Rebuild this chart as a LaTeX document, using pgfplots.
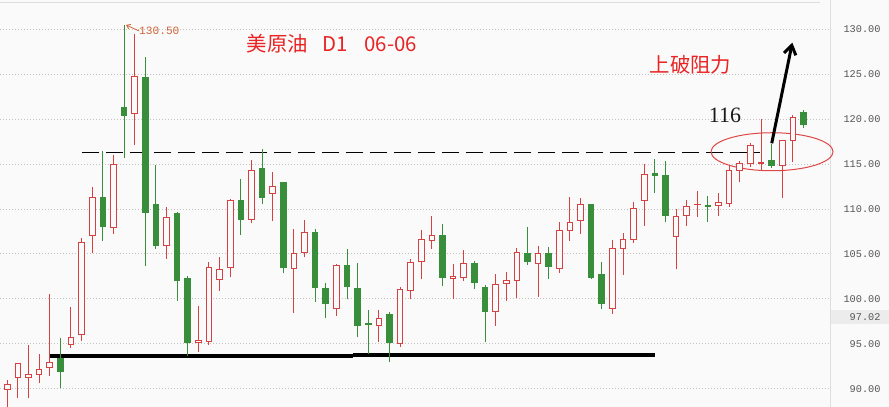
\documentclass[border=0pt]{standalone}
\usepackage{fontspec}
\usepackage{pgfplots}
\pgfplotsset{compat=1.18}
\usepackage{pgfplotstable}
\usetikzlibrary{arrows.meta}
\setmainfont{Noto Sans CJK SC}
\newfontfamily\monofont{Liberation Mono}
\newfontfamily\seriffont{Liberation Serif}
\definecolor{bgc}{RGB}{250,250,250}
\definecolor{upred}{RGB}{214,66,66}
\definecolor{dngreen}{RGB}{56,142,58}
\definecolor{titlered}{RGB}{232,36,36}
\definecolor{ellred}{RGB}{224,70,70}
\definecolor{annor}{RGB}{206,100,56}
\definecolor{gridgray}{RGB}{195,195,195}
\definecolor{linegray}{RGB}{222,222,222}
\definecolor{labgray}{RGB}{85,85,85}
\definecolor{boxgray}{RGB}{236,236,236}

\pgfdeclareplotmark{cup}{%
  \pgfsetlinewidth{1bp}%
  \pgfsetstrokecolor{upred}%
  \pgfpathmoveto{\pgfpoint{0bp}{\cL bp}}%
  \pgfpathlineto{\pgfpoint{0bp}{\cH bp}}%
  \pgfusepath{stroke}%
  \pgfsetfillcolor{bgc}%
  \pgfpathrectangle{\pgfpoint{-2.8bp}{0bp}}{\pgfpoint{5.6bp}{\cC bp}}%
  \pgfusepath{fill,stroke}%
}
\pgfdeclareplotmark{cdn}{%
  \pgfsetlinewidth{1bp}%
  \pgfsetstrokecolor{dngreen}%
  \pgfsetfillcolor{dngreen}%
  \pgfpathmoveto{\pgfpoint{0bp}{\cL bp}}%
  \pgfpathlineto{\pgfpoint{0bp}{\cH bp}}%
  \pgfusepath{stroke}%
  \pgfpathrectangle{\pgfpoint{-2.8bp}{0bp}}{\pgfpoint{5.6bp}{\cC bp}}%
  \pgfusepath{fill,stroke}%
}
\pgfplotsset{
  candle/.style={
    only marks, mark=#1,
    visualization depends on={(\thisrow{h}-\thisrow{o})*8.983 \as \cH},
    visualization depends on={(\thisrow{l}-\thisrow{o})*8.983 \as \cL},
    visualization depends on={(\thisrow{c}-\thisrow{o})*8.983 \as \cC},
  }
}

% up (red, hollow) candles: index open high low close
\pgfplotstableread{
i o h l c
0 89.93 90.96 88.00 90.41
1 91.22 92.82 88.92 92.75
2 91.22 94.86 88.92 91.52
3 91.60 93.86 90.67 92.15
4 92.37 100.54 91.41 92.93
6 94.94 99.13 94.49 95.71
7 96.05 106.81 95.31 106.29
8 107.07 112.49 105.06 111.30
10 107.96 116.01 107.22 114.97
12 120.65 129.44 117.12 124.77
15 105.92 110.26 104.43 109.07
18 95.16 99.24 94.04 95.34
19 95.23 104.14 94.86 103.51
20 102.17 104.62 100.91 103.21
21 103.51 111.11 102.39 110.89
23 108.85 115.45 108.40 114.30
25 111.74 114.08 108.70 112.49
27 103.40 107.74 98.46 105.06
28 105.18 108.78 104.62 107.40
31 98.87 103.84 98.09 103.69
35 97.01 98.76 95.16 97.83
37 95.05 101.35 94.68 100.98
38 100.87 104.43 99.94 104.06
39 104.14 107.66 102.17 106.55
40 106.44 109.22 105.51 106.99
42 102.30 103.88 99.94 102.45
43 102.39 105.44 102.02 103.95
46 98.57 102.76 97.01 101.61
47 101.72 102.95 99.80 102.02
48 102.02 105.62 100.13 105.18
50 103.95 105.88 100.24 105.06
52 103.40 108.52 102.91 107.55
53 107.55 111.37 106.47 108.52
54 108.66 111.19 107.22 110.52
57 98.94 106.55 98.31 105.55
58 105.62 107.29 102.65 106.62
59 106.62 110.74 106.25 110.07
60 110.93 114.97 108.15 113.86
63 106.92 110.00 103.28 109.15
64 109.22 111.00 108.11 110.26
65 110.45 112.00 109.15 110.55
67 110.33 111.74 109.22 110.74
68 110.63 114.82 110.26 114.23
69 114.23 115.34 112.97 115.08
70 115.01 117.38 114.71 117.12
71 115.05 120.02 114.23 115.20
73 114.79 117.68 111.26 117.57
74 117.57 120.46 115.27 120.20
}\upData

% down (green, filled) candles
\pgfplotstableread{
i o h l c
5 93.30 95.68 90.04 91.89
9 111.30 116.49 106.47 108.03
11 121.35 130.50 115.64 120.39
13 124.66 126.88 103.69 109.63
14 110.45 114.90 105.55 105.92
16 109.44 109.70 99.80 102.02
17 102.21 102.58 93.67 95.16
22 110.89 113.34 107.11 108.78
24 114.45 116.68 110.56 111.26
26 112.93 112.93 102.84 103.47
29 107.40 107.74 99.68 101.28
30 101.17 101.72 97.83 99.50
32 103.66 105.55 99.94 101.35
33 101.17 103.95 95.71 97.01
34 97.20 98.76 93.86 97.10
36 98.28 98.50 92.93 95.16
41 106.99 108.33 101.47 102.39
44 103.95 104.21 101.09 101.80
45 101.28 101.54 95.23 98.57
49 105.06 107.96 103.77 104.14
51 105.06 105.73 102.17 103.58
55 110.45 110.45 102.17 102.36
56 102.65 104.06 98.87 99.50
61 113.90 115.57 111.82 113.75
62 113.67 115.38 108.52 109.26
66 110.40 111.45 108.59 110.30
72 115.45 117.27 114.60 114.82
75 120.76 121.02 119.05 119.42
}\dnData

\begin{document}
\begin{tikzpicture}
\fill[bgc] (0,0) rectangle (889bp,407bp);
\path[use as bounding box] (0,0) rectangle (889bp,407bp);
\begin{axis}[
  at={(0,0)}, anchor=south west,
  scale only axis, width=830bp, height=407bp,
  xmin=-0.688, xmax=77.5, ymin=87.954, ymax=133.262,
  clip=false,
  axis line style={draw=none},
  xtick=\empty,
  ytick={90,95,...,130},
  yticklabel pos=right,
  major tick length=0pt,
  ymajorgrids,
  grid style={gridgray, line width=0.8bp, dash pattern=on 1bp off 2bp},
  /pgf/number format/assume math mode=true,
  yticklabel={\pgfmathprintnumber[fixed,fixed zerofill,precision=2]{\tick}},
  yticklabel style={font=\monofont\fontsize{10.3}{12}\selectfont, text=labgray, anchor=east, inner sep=0pt, xshift=50.7bp},
]
% frame lines
\draw[linegray, line width=1bp] (axis cs:-0.688,132.96) -- (axis cs:76.56,132.96);
\draw[linegray, line width=1bp] (rel axis cs:1,0) -- (rel axis cs:1,1);

% resistance and support lines
\addplot[black, line width=1.1bp, dash pattern=on 16.7bp off 7.3bp] coordinates {(7.04,116.31) (70.9,116.31)};
\addplot[black, line width=3.3bp] coordinates {(3.96,93.63) (32.57,93.63)};
\addplot[black, line width=3.3bp] coordinates {(32.57,93.74) (61.02,93.74)};

% candles
\addplot[candle=cup] table[x=i, y=o] {\upData};
\addplot[candle=cdn] table[x=i, y=o] {\dnData};

% annotations
\draw[ellred, line width=1bp] (axis cs:72.04,116.37) ellipse [x radius=61bp, y radius=19bp];
\draw[black, line width=3bp, -{Straight Barb[length=9bp, width=12bp]}] (axis cs:72.01,117.31) -- (axis cs:73.95,128.51);
\node[font=\seriffont\fontsize{22}{24}\selectfont, text=black!90] at (axis cs:67.61,120.38) {116};
\node[anchor=west, inner sep=0pt, font=\fontsize{20.5}{22}\selectfont, text=titlered] at (axis cs:22.55,128.44) {美原油\hspace{14bp}D1\hspace{17bp}06-06};
\node[font=\fontsize{20.5}{22}\selectfont, text=titlered] at (axis cs:64.36,126.10) {上破阻力};
\draw[annor, line width=0.8bp, -{Straight Barb[length=3.5bp, width=5bp]}] (axis cs:12.43,129.81) -- (axis cs:11.18,130.48);
\node[font=\monofont\fontsize{11.2}{12}\selectfont, text=annor, inner sep=0pt] at (axis cs:14.32,129.81) {130.50};
\end{axis}
% last price box
\fill[boxgray] (830.7bp,82.7bp) rectangle (889bp,97bp);
\node[anchor=east, inner sep=0pt, font=\monofont\fontsize{10.3}{12}\selectfont, text=labgray] at (880.7bp,89.8bp) {97.02};
\end{tikzpicture}
\end{document}
